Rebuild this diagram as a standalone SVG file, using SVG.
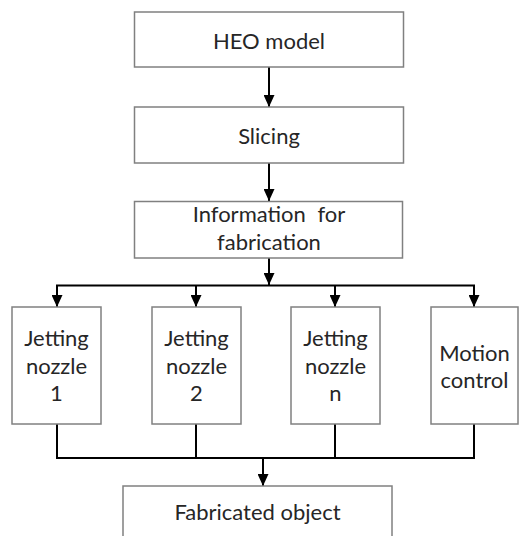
<svg xmlns="http://www.w3.org/2000/svg" width="519" height="536" viewBox="0 0 519 536">
  <style>
    .box { fill: #ffffff; stroke: #808080; stroke-width: 1.5; }
    .lbl { font-family: Lato, "Open Sans", "Liberation Sans", sans-serif; font-size: 22px; fill: #262626; text-anchor: middle; }
    .wire { fill: none; stroke: #000000; stroke-width: 2; }
  </style>
  <defs>
    <marker id="arrow" viewBox="0 0 12 11" refX="12" refY="5.5" markerWidth="12" markerHeight="11" markerUnits="userSpaceOnUse" orient="auto">
      <path d="M0,0 L12,5.5 L0,11 Z" fill="#000000"/>
    </marker>
  </defs>
  <rect width="519" height="536" fill="#ffffff"/>

  <g id="connectors">
    <line class="wire" x1="269" y1="67" x2="269" y2="107" marker-end="url(#arrow)"/>
    <line class="wire" x1="269" y1="163" x2="269" y2="201" marker-end="url(#arrow)"/>
    <line class="wire" x1="269" y1="258" x2="269" y2="285" marker-end="url(#arrow)"/>
    <line class="wire" x1="56" y1="285.5" x2="475" y2="285.5"/>
    <line class="wire" x1="57" y1="285" x2="57" y2="307" marker-end="url(#arrow)"/>
    <line class="wire" x1="196" y1="285" x2="196" y2="307" marker-end="url(#arrow)"/>
    <line class="wire" x1="335" y1="285" x2="335" y2="307" marker-end="url(#arrow)"/>
    <line class="wire" x1="474" y1="285" x2="474" y2="307" marker-end="url(#arrow)"/>
    <path class="wire" d="M57,424 V458 M196,424 V458 M335,424 V458 M474,424 V458 M56,458 H475"/>
    <line class="wire" x1="263" y1="458" x2="263" y2="486" marker-end="url(#arrow)"/>
  </g>

  <g id="heo-model">
    <rect class="box" x="134.5" y="12" width="269" height="55"/>
    <text class="lbl" x="269" y="49">HEO model</text>
  </g>
  <g id="slicing">
    <rect class="box" x="134.5" y="107" width="269" height="56"/>
    <text class="lbl" x="269" y="144">Slicing</text>
  </g>
  <g id="information">
    <rect class="box" x="134.5" y="201.5" width="268" height="56.5"/>
    <text class="lbl" x="269" y="222" word-spacing="6">Information for</text>
    <text class="lbl" x="269" y="250">fabrication</text>
  </g>
  <g id="nozzle-1">
    <rect class="box" x="12" y="307" width="89" height="117"/>
    <text class="lbl" x="56.5" y="346">Jetting</text>
    <text class="lbl" x="56.5" y="374">nozzle</text>
    <text class="lbl" x="56.5" y="401">1</text>
  </g>
  <g id="nozzle-2">
    <rect class="box" x="152" y="307" width="89" height="117"/>
    <text class="lbl" x="196.5" y="346">Jetting</text>
    <text class="lbl" x="196.5" y="374">nozzle</text>
    <text class="lbl" x="196.5" y="401">2</text>
  </g>
  <g id="nozzle-n">
    <rect class="box" x="291" y="307" width="89" height="117"/>
    <text class="lbl" x="335.5" y="346">Jetting</text>
    <text class="lbl" x="335.5" y="374">nozzle</text>
    <text class="lbl" x="335.5" y="401">n</text>
  </g>
  <g id="motion-control">
    <rect class="box" x="431" y="307" width="87" height="117"/>
    <text class="lbl" x="474.5" y="361">Motion</text>
    <text class="lbl" x="474.5" y="388">control</text>
  </g>
  <g id="fabricated-object">
    <rect class="box" x="123" y="486" width="269" height="60"/>
    <text class="lbl" x="257.5" y="520">Fabricated object</text>
  </g>
</svg>
